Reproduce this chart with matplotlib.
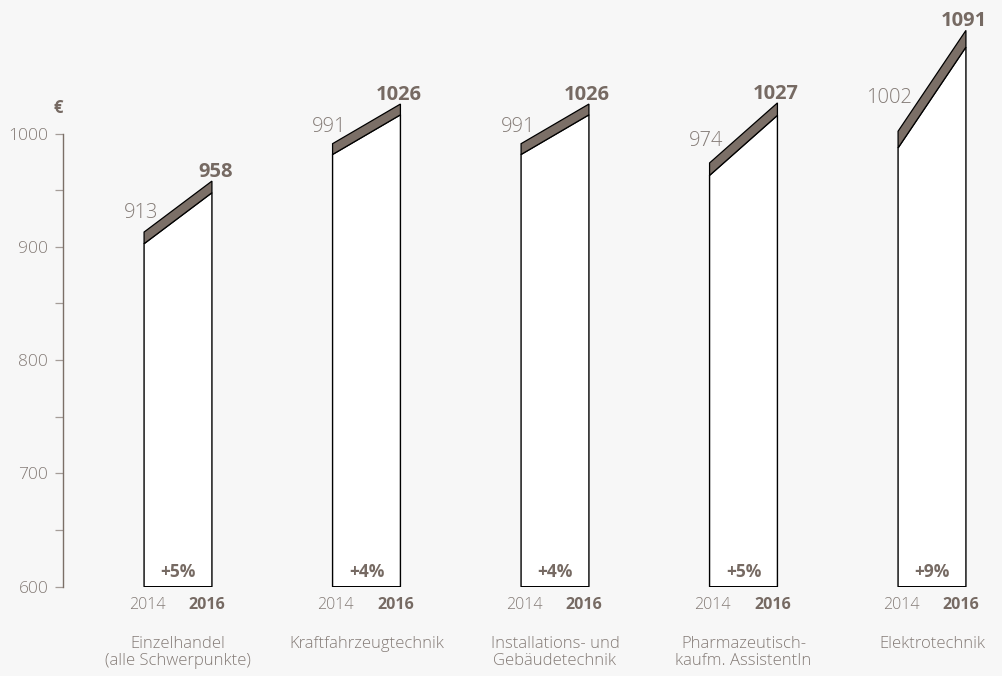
import numpy as np
import matplotlib
matplotlib.use("Agg")
import matplotlib.pyplot as plt
from matplotlib.patches import Polygon

plt.rcParams['font.family'] = ['Open Sans', 'DejaVu Sans']

categories = ["Einzelhandel\n(alle Schwerpunkte)", "Kraftfahrzeugtechnik",
              "Installations- und\nGebäudetechnik", "Pharmazeutisch-\nkaufm. AssistentIn",
              "Elektrotechnik"]
values_2014 = [913, 991, 991, 974, 1002]
values_2016 = [958, 1026, 1026, 1027, 1091]
growth = ["+5%", "+4%", "+4%", "+5%", "+9%"]
years = ["2014", "2016"]

BG = "#f7f7f7"
BROWN = "#7b6f67"
GREY = "#847b76"
DARK = "#766a63"

W, H = 1003, 676
fig = plt.figure(figsize=(W / 100, H / 100), dpi=100, facecolor=BG)
left_px, bottom_px = 63.3, 586.7
ax = fig.add_axes([left_px / W, (H - bottom_px) / H, 1 - left_px / W, bottom_px / H])
ax.set_facecolor(BG)

px_per_unit = 1.133      # pixels per euro
px_per_cat = 188.5       # pixels between category centres
ymin = 600
ax.set_ylim(ymin, ymin + bottom_px / px_per_unit)
x0 = -(178 - left_px) / px_per_cat
ax.set_xlim(x0, x0 + (W - left_px) / px_per_cat)

half = 0.18
band_px = 9.3            # perpendicular thickness of the top band
pt = 0.72                # points per pixel at 100 dpi

for i, (cat, a, b, g) in enumerate(zip(categories, values_2014, values_2016, growth)):
    xl, xr = i - half, i + half
    rise_px = (b - a) * px_per_unit
    w_px = 2 * half * px_per_cat
    dv = band_px * np.sqrt(1 + (rise_px / w_px) ** 2) / px_per_unit

    body = Polygon([(xl, ymin), (xr, ymin), (xr, b - dv), (xl, a - dv)],
                   closed=True, facecolor="white", edgecolor="black", lw=1.0)
    band = Polygon([(xl, a - dv), (xr, b - dv), (xr, b), (xl, a)],
                   closed=True, facecolor=BROWN, edgecolor="black", lw=0.9, joinstyle="miter")
    ax.add_patch(body)
    ax.add_patch(band)

    # value labels
    lift = max(12, 0.28 * rise_px)
    ax.annotate(str(a), (xl, a), xytext=(14 * pt, lift * pt), textcoords="offset points",
                ha="right", va="baseline", fontsize=14.5, fontweight="light", color=GREY,
                annotation_clip=False)
    ax.annotate(str(b), (xr, b), xytext=(21 * pt, 4 * pt), textcoords="offset points",
                ha="right", va="baseline", fontsize=14.5, fontweight="bold", color=DARK,
                annotation_clip=False)

    ax.annotate(g, (i, ymin), xytext=(0, 10 * pt), textcoords="offset points",
                ha="center", va="baseline", fontsize=12.5, fontweight="bold", color=DARK,
                annotation_clip=False)
    ax.annotate(years[0], (xl, ymin), xytext=(3 * pt, -18 * pt), textcoords="offset points",
                ha="center", va="center", fontsize=11.5, fontweight="light", color=GREY,
                annotation_clip=False)
    ax.annotate(years[1], (xr, ymin), xytext=(-5 * pt, -18 * pt), textcoords="offset points",
                ha="center", va="center", fontsize=11.5, fontweight="bold", color=DARK,
                annotation_clip=False)
    ax.annotate(cat, (i, ymin), xytext=(0, -49 * pt), textcoords="offset points",
                ha="center", va="top", fontsize=12, fontweight="light", color=GREY,
                linespacing=1.1, annotation_clip=False)

# axis styling
for side in ["top", "right", "bottom"]:
    ax.spines[side].set_visible(False)
ax.spines["left"].set_color(BROWN)
ax.spines["left"].set_linewidth(1.0)
ax.spines["left"].set_bounds(600, 1000)
ax.set_xticks([])
ax.set_yticks(np.arange(600, 1001, 100))
ax.set_yticks(np.arange(650, 1000, 100), minor=True)
ax.tick_params(axis="y", which="both", direction="out", length=5.8, width=0.9,
               color="#a59d98", labelcolor=GREY, labelsize=12.5, pad=5)
for lbl in ax.get_yticklabels():
    lbl.set_fontweight("light")
fig.text(58 / W, 1 - 108 / H, "€", ha="center", va="center", fontsize=12,
         fontweight="bold", color=DARK)

fig.savefig("out.png", dpi=100, facecolor=BG)
